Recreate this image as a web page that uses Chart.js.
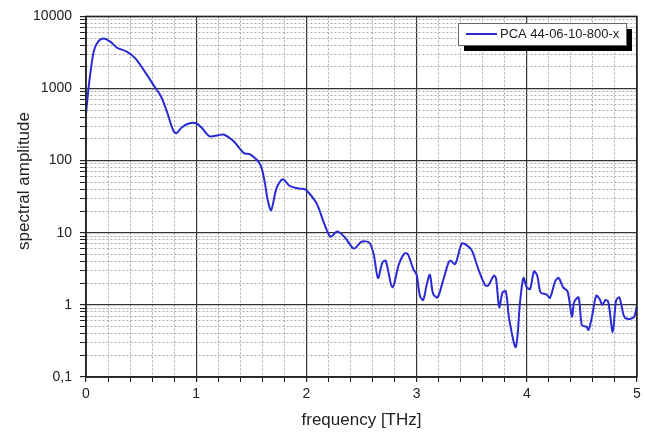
<!DOCTYPE html>
<html lang="en">
<head>
  <meta charset="UTF-8" />
  <title>Spectral amplitude</title>
  <script src="https://cdn.jsdelivr.net/npm/chart.js"></script>
  <style>
    html, body { margin: 0; padding: 0; background: #fff; }
    #wrap { width: 645px; height: 435px; }
  </style>
</head>
<body>
  <div id="wrap"><canvas id="spec"></canvas></div>

  <script>
    // frequency in THz
    const freq = [0, 0.03, 0.07, 0.11, 0.16, 0.22, 0.28, 0.37, 0.45, 0.55,
      0.62, 0.68, 0.74, 0.79, 0.82, 0.87, 0.94, 1.0, 1.05, 1.12,
      1.2, 1.25, 1.34, 1.43, 1.49, 1.58, 1.62, 1.65, 1.68, 1.73,
      1.785, 1.85, 1.93, 1.99, 2.08, 2.11, 2.17, 2.22, 2.28, 2.35,
      2.43, 2.5, 2.57, 2.61, 2.65, 2.69, 2.72, 2.78, 2.84, 2.89,
      2.92, 2.97, 3.0, 3.03, 3.06, 3.09, 3.12, 3.15, 3.19, 3.24,
      3.29, 3.31, 3.35, 3.41, 3.45, 3.5, 3.56, 3.62, 3.65, 3.7,
      3.72, 3.75, 3.78, 3.81, 3.84, 3.9, 3.94, 3.97, 4.0, 4.03,
      4.065, 4.095, 4.125, 4.18, 4.21, 4.26, 4.29, 4.33, 4.37, 4.41,
      4.43, 4.47, 4.5, 4.54, 4.56, 4.59, 4.63, 4.66, 4.685, 4.715,
      4.74, 4.78, 4.81, 4.84, 4.88, 4.91, 4.97, 5.0];

    const amplitude = [450, 1250, 3250, 4470, 4950, 4470, 3700, 3250, 2600, 1570,
      1070, 780, 450, 265, 240, 290, 330, 330, 285, 218,
      225, 230, 186, 128, 122, 89, 52, 28, 20.5, 42,
      55, 44.5, 41, 40, 27.6, 22.3, 12.4, 8.8, 10.4, 8.6,
      6.05, 7.5, 7.3, 5.07, 2.36, 3.88, 4.09, 1.75, 3.68, 5.16,
      5.07, 3.14, 2.62, 1.34, 1.17, 1.85, 2.62, 1.42, 1.27, 2.17,
      3.88, 4.09, 3.68, 7.1, 6.8, 5.75, 3.14, 1.89, 1.85, 2.54,
      2.36, 0.93, 1.49, 1.54, 0.64, 0.26, 1.15, 2.36, 1.75, 1.66,
      2.91, 2.54, 1.49, 1.39, 1.25, 2.17, 2.36, 1.75, 1.54, 0.69,
      1.09, 1.27, 0.52, 0.50, 0.45, 0.67, 1.34, 1.21, 1.0, 1.17,
      1.09, 0.42, 1.15, 1.27, 0.71, 0.64, 0.67, 0.98];

    const seriesLabel = "PCA 44-06-10-800-x";
    const decades = [0.1, 1, 10, 100, 1000, 10000];
    const xTickLabels = ["0", "1", "2", "3", "4", "5"];

    const FONT = "'Liberation Sans', Arial, sans-serif";
    const LINE = "#2b2bd6";

    // ticks for the log axis: 1..9 within each decade
    const logTicks = [];
    decades.forEach((d, i) => {
      if (i === decades.length - 1) { logTicks.push(d); return; }
      for (let k = 1; k <= 9; k++) logTicks.push(+(d * k).toPrecision(3));
    });

    const isDecade = v => decades.some(d => Math.abs(v - d) / d < 1e-6);
    const isWhole = v => Math.abs(v - Math.round(v)) < 1e-6;

    // frame + y title + legend box
    const decor = {
      id: "decor",
      afterDraw(chart) {
        const { ctx, chartArea: a } = chart;
        ctx.save();
        ctx.strokeStyle = "#222";
        ctx.lineWidth = 1.5;
        ctx.strokeRect(a.left, a.top, a.right - a.left, a.bottom - a.top);

        ctx.fillStyle = "#222";
        ctx.font = "17px " + FONT;
        ctx.textAlign = "center";
        ctx.textBaseline = "middle";
        ctx.translate(24, 181);
        ctx.rotate(-Math.PI / 2);
        ctx.fillText("spectral amplitude", 0, 0);
        ctx.restore();

        // legend
        ctx.save();
        const bx = 458, by = 23, bw = 168, bh = 22;
        ctx.fillStyle = "#000";
        ctx.fillRect(bx + 6, by + 6, bw, bh);
        ctx.fillStyle = "#fff";
        ctx.fillRect(bx, by, bw, bh);
        ctx.strokeStyle = "#666";
        ctx.lineWidth = 1;
        ctx.strokeRect(bx + 0.5, by + 0.5, bw, bh);
        ctx.strokeStyle = LINE;
        ctx.lineWidth = 2;
        ctx.beginPath();
        ctx.moveTo(bx + 8, by + 11);
        ctx.lineTo(bx + 39, by + 11);
        ctx.stroke();
        ctx.fillStyle = "#222";
        ctx.font = "13px " + FONT;
        ctx.textBaseline = "middle";
        ctx.fillText(chart.data.datasets[0].label, bx + 42, by + 11.5);
        ctx.restore();
      }
    };

    new Chart(document.getElementById("spec"), {
      type: "line",
      data: {
        datasets: [{
          label: seriesLabel,
          data: freq.map((f, i) => ({ x: f, y: amplitude[i] })),
          borderColor: LINE,
          borderWidth: 2,
          pointRadius: 0,
          tension: 0.3,
          fill: false
        }]
      },
      options: {
        responsive: true,
        maintainAspectRatio: false,
        animation: false,
        layout: { padding: { top: 15, right: 8, left: 0, bottom: 0 } },
        plugins: { legend: { display: false }, tooltip: { enabled: false } },
        scales: {
          x: {
            type: "linear",
            min: 0,
            max: 5,
            afterFit: s => { s.height = 58; },
            ticks: {
              stepSize: 0.2,
              autoSkip: false,
              maxRotation: 0,
              padding: 4,
              color: "#222",
              font: { family: FONT, size: 14 },
              callback: v => isWhole(v) ? xTickLabels[Math.round(v)] : ""
            },
            grid: {
              color: c => isWhole(c.tick.value) ? "#333" : "#aaa",
              lineWidth: c => isWhole(c.tick.value) ? 1.2 : 1,
              tickColor: "#222",
              tickLength: 5
            },
            border: {
              color: "#222",
              width: 1.5,
              dash: c => (c.tick && isWhole(c.tick.value)) ? [] : [2, 2]
            },
            title: {
              display: true,
              text: "frequency [THz]",
              color: "#222",
              font: { family: FONT, size: 17 },
              padding: { top: 0, bottom: 4 }
            }
          },
          y: {
            type: "logarithmic",
            min: 0.1,
            max: 10000,
            afterFit: s => { s.width = 86; },
            afterBuildTicks: s => { s.ticks = logTicks.map(v => ({ value: v })); },
            ticks: {
              autoSkip: false,
              padding: 8,
              color: "#222",
              font: { family: FONT, size: 14 },
              callback: v => isDecade(v) ? (v < 1 ? String(v).replace(".", ",") : String(v)) : ""
            },
            grid: {
              color: c => isDecade(c.tick.value) ? "#333" : "#aaa",
              lineWidth: c => isDecade(c.tick.value) ? 1.2 : 1,
              tickColor: "#222",
              tickLength: 6
            },
            border: {
              color: "#222",
              width: 1.5,
              dash: c => (c.tick && isDecade(c.tick.value)) ? [] : [2, 2]
            }
          }
        }
      },
      plugins: [decor]
    });
  </script>
</body>
</html>
